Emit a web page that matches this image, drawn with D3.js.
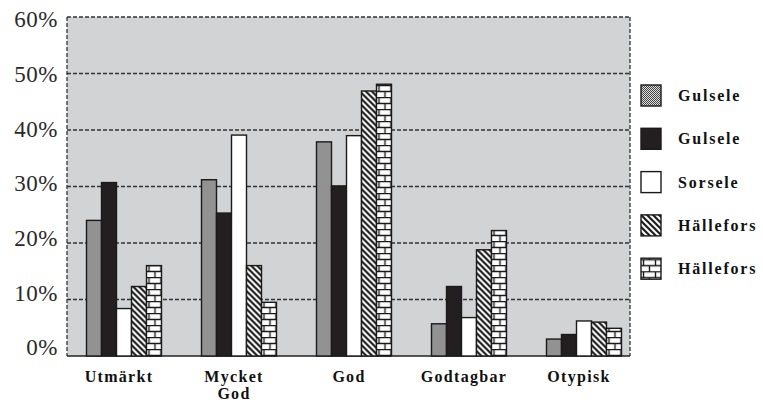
<!DOCTYPE html>
<html>
<head>
<meta charset="utf-8">
<script src="https://cdn.jsdelivr.net/npm/d3@7"></script>
<style>
  html, body { margin: 0; padding: 0; background: #ffffff; }
  svg { display: block; }
</style>
</head>
<body>
<svg id="chart" width="763" height="406"></svg>
<script>
// ---- data ----
const categories = ["Utmärkt", "Mycket God", "God", "Godtagbar", "Otypisk"];
const seriesNames = ["Gulsele", "Gulsele", "Sorsele", "Hällefors", "Hällefors"];
const seriesA = [24, 31.2, 37.9, 5.7, 3.0];    // Gulsele (dotted)
const seriesB = [30.7, 25.3, 30.1, 12.3, 3.8]; // Gulsele (black)
const seriesC = [8.4, 39.1, 39.0, 6.8, 6.2];   // Sorsele (white)
const seriesD = [12.3, 16.0, 46.9, 18.8, 6.0]; // Hällefors (hatched)
const seriesE = [16.0, 9.5, 48.1, 22.2, 4.9];  // Hällefors (brick)
const yTicks = [0, 10, 20, 30, 40, 50, 60];
const yTickLabels = ["0%", "10%", "20%", "30%", "40%", "50%", "60%"];

const allSeries = [seriesA, seriesB, seriesC, seriesD, seriesE];
const fills = ["url(#pDots)", "#231f20", "#ffffff", "url(#pHatch)", "url(#pBrick)"];

const svg = d3.select("#chart");
const plot = { left: 67, right: 630, top: 17, bottom: 356 };

// ---- patterns ----
const defs = svg.append("defs");
const pd = defs.append("pattern").attr("id", "pDots").attr("patternUnits", "userSpaceOnUse")
  .attr("width", 2).attr("height", 2);
pd.append("rect").attr("width", 2).attr("height", 2).attr("fill", "#e0e0e0");
pd.append("rect").attr("x", 0).attr("y", 0).attr("width", 1).attr("height", 1).attr("fill", "#444");
pd.append("rect").attr("x", 1).attr("y", 1).attr("width", 1).attr("height", 1).attr("fill", "#444");

const ph = defs.append("pattern").attr("id", "pHatch").attr("patternUnits", "userSpaceOnUse")
  .attr("width", 6).attr("height", 6);
ph.append("rect").attr("width", 6).attr("height", 6).attr("fill", "#ffffff");
ph.append("path").attr("d", "M0,0 L6,6 M-1,5 L1,7 M5,-1 L7,1")
  .attr("stroke", "#1a1a1a").attr("stroke-width", 2.2).attr("fill", "none");

const pb = defs.append("pattern").attr("id", "pBrick").attr("patternUnits", "userSpaceOnUse")
  .attr("width", 12).attr("height", 12).attr("y", 1);
pb.append("rect").attr("width", 12).attr("height", 12).attr("fill", "#ffffff");
pb.append("path").attr("d", "M0,0.5 H12 M0,6.5 H12 M2.5,0 V6.5 M8.5,6.5 V12")
  .attr("stroke", "#1a1a1a").attr("stroke-width", 1.4).attr("fill", "none");

// ---- scales ----
const y = d3.scaleLinear().domain([0, 60]).range([plot.bottom, plot.top]);
const yLabel = d3.scaleLinear().domain([0, 60]).range([350, 22]);
const x0 = d3.scaleBand().domain(categories).range([66.5, 641.5])
  .paddingInner(40 / 115).paddingOuter(20 / 115);
const x1 = d3.scaleBand().domain(d3.range(seriesNames.length)).range([0, x0.bandwidth()]);

// ---- plot area ----
svg.append("rect")
  .attr("x", plot.left).attr("y", plot.top)
  .attr("width", plot.right - plot.left).attr("height", plot.bottom - plot.top)
  .attr("fill", "#d2d3d5");

// gridlines
svg.append("g").selectAll("line").data(yTicks.filter(d => d > 0)).join("line")
  .attr("x1", plot.left).attr("x2", plot.right)
  .attr("y1", d => y(d)).attr("y2", d => y(d))
  .attr("stroke", "#333").attr("stroke-width", 1.3).attr("stroke-dasharray", "4,2");

// border (left, right dashed)
svg.append("line").attr("x1", plot.left).attr("x2", plot.left)
  .attr("y1", plot.top).attr("y2", plot.bottom)
  .attr("stroke", "#333").attr("stroke-width", 1.3).attr("stroke-dasharray", "4,2");
svg.append("line").attr("x1", plot.right).attr("x2", plot.right)
  .attr("y1", plot.top).attr("y2", plot.bottom)
  .attr("stroke", "#333").attr("stroke-width", 1.3).attr("stroke-dasharray", "4,2");

// bottom axis line
svg.append("line").attr("x1", plot.left).attr("x2", plot.right)
  .attr("y1", y(0)).attr("y2", y(0))
  .attr("stroke", "#222").attr("stroke-width", 1.5);

// y labels
svg.append("g").selectAll("text").data(yTicks).join("text")
  .attr("x", 58).attr("y", d => yLabel(d))
  .attr("text-anchor", "end").attr("dominant-baseline", "middle")
  .attr("font-family", "'Liberation Serif', serif").attr("font-size", 23)
  .attr("letter-spacing", 0.5)
  .attr("fill", "#2a2a2a")
  .text((d, i) => yTickLabels[i]);

// ---- bars ----
const groups = svg.append("g").selectAll("g").data(categories).join("g")
  .attr("transform", d => `translate(${x0(d)},0)`);
groups.selectAll("rect").data((c, ci) => allSeries.map((s, si) => ({ si, v: s[ci] }))).join("rect")
  .attr("x", d => x1(d.si)).attr("width", x1.bandwidth())
  .attr("y", d => y(d.v)).attr("height", d => y(0) - y(d.v))
  .attr("fill", d => fills[d.si])
  .attr("stroke", "#1a1a1a").attr("stroke-width", 1.4);

// category labels
const catLabels = svg.append("g").selectAll("text").data(categories).join("text")
  .attr("text-anchor", "middle")
  .attr("font-family", "'Liberation Serif', serif").attr("font-weight", "bold")
  .attr("font-size", 16).attr("letter-spacing", 1.3).attr("fill", "#111");
catLabels.each(function (d) {
  const words = d.split(" ");
  const t = d3.select(this);
  words.forEach((w, i) => {
    t.append("tspan").attr("x", x0(d) + x0.bandwidth() / 2 - 5).attr("y", 382 + i * 17).text(w);
  });
});

// ---- legend ----
const legend = svg.append("g").selectAll("g").data(seriesNames).join("g")
  .attr("transform", (d, i) => `translate(641,${85 + i * 43.3})`);
legend.append("rect").attr("width", 20).attr("height", 21)
  .attr("fill", (d, i) => fills[i]).attr("stroke", "#1a1a1a").attr("stroke-width", 1.4);
legend.append("text").attr("x", 37).attr("y", 16)
  .attr("font-family", "'Liberation Serif', serif").attr("font-weight", "bold")
  .attr("font-size", 16).attr("letter-spacing", 1.8).attr("fill", "#111")
  .text(d => d);
</script>
</body>
</html>
